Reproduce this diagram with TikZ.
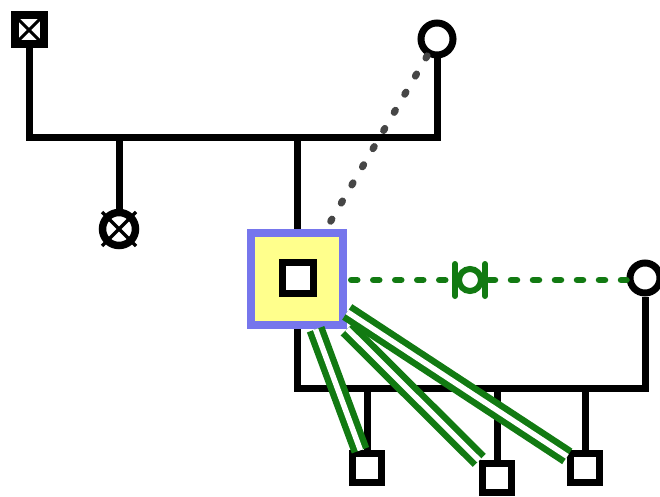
\documentclass[tikz,border=0pt]{standalone}
\definecolor{pgreen}{RGB}{18,122,18}
\definecolor{pblue}{RGB}{118,118,236}
\definecolor{pyellow}{RGB}{255,255,140}
\definecolor{pgray}{RGB}{70,70,70}
\begin{document}
\begin{tikzpicture}[x=1pt,y=-1pt,
  pline/.style={line width=7pt, black},
  malesq/.style={draw=black, rectangle, fill=white, line width=6.5pt, minimum size=29pt, inner sep=0pt},
  femci/.style={draw=black, circle, fill=white, line width=7pt, inner sep=0pt},
  xsq/.style={malesq, line width=8pt, minimum size=29pt,
    path picture={\draw[line width=3pt] (path picture bounding box.north west) -- (path picture bounding box.south east)
      (path picture bounding box.north east) -- (path picture bounding box.south west);}},
  probox/.style={draw=pblue, rectangle, fill=pyellow, line width=8.5pt, minimum size=92pt, inner sep=0pt},
  gdash/.style={draw=pgreen, line width=6.5pt, line cap=round, dash pattern=on 6pt off 16pt},
  gdouble/.style={draw=pgreen, line width=6.5pt, double=white, double distance=5.5pt},
  gdots/.style={draw=pgray, line width=7pt, line cap=round, dash pattern=on 2.5pt off 18.5pt}
]
\useasboundingbox (0,0) rectangle (660,497);

% coordinates for the line junctions
\coordinate (mA) at (29,138);
\coordinate (mB) at (437,138);
\coordinate (cC) at (119,138);
\coordinate (cP) at (297,138);
\coordinate (fP) at (297,388);
\coordinate (fQ) at (645,388);
\coordinate (k1t) at (367,388);
\coordinate (k2t) at (497,388);
\coordinate (k3t) at (585,388);

% nodes
\node[xsq] (A) at (29,30) {};
\node[femci, minimum size=32pt] (B) at (437,39) {};
\node[femci, line width=7.5pt, minimum size=33pt] (C) at (119,229) {};
\node[femci, minimum size=30pt] (Q) at (645,278) {};
\node[malesq] (K1) at (367,468) {};
\node[malesq] (K2) at (497,478) {};
\node[malesq] (K3) at (585,468) {};

% black pedigree lines
\draw[pline] (A) -- (mA) -- (mB) -- (B);
\draw[pline] (cC) -- (C);
\draw[pline] (cP) -- (297,250);
\draw[pline] (297,300) -- (fP) -- (fQ) -- (Q);
\draw[pline] (k1t) -- (K1);
\draw[pline] (k2t) -- (K2);
\draw[pline] (k3t) -- (K3);

% cross in the circle
\draw[line width=3.5pt] ([shift={(-17,-17)}]C.center) -- ([shift={(17,17)}]C.center)
  ([shift={(17,-17)}]C.center) -- ([shift={(-17,17)}]C.center);

% proband box
\node[probox] (P) at (297,279) {};
\node[malesq, line width=7.5pt, minimum size=31pt] (Pi) at (298,278) {};

% consanguinity symbol and dashed relation line
\node[draw=pgreen, circle, line width=6pt, minimum size=22pt, inner sep=0pt, fill=white] (S) at (470,280) {};
\draw[pgreen, line width=6pt, line cap=round]
  ([shift={(-1,-16)}]S.west) -- ([shift={(-1,16)}]S.west)
  ([shift={(1,-16)}]S.east) -- ([shift={(1,16)}]S.east);
\draw[gdash] ([xshift=4pt]P.east |- S.west) -- (S.west);
\draw[gdash] ([xshift=5pt]S.east) -- (Q.west |- S.east);

% green double lines
\draw[gdouble] (P) -- (K1);
\draw[gdouble] (P) -- (K2);
\draw[gdouble] (P) -- (K3);

% dotted line
\draw[gdots] (B) -- (P);
\end{tikzpicture}
\end{document}
